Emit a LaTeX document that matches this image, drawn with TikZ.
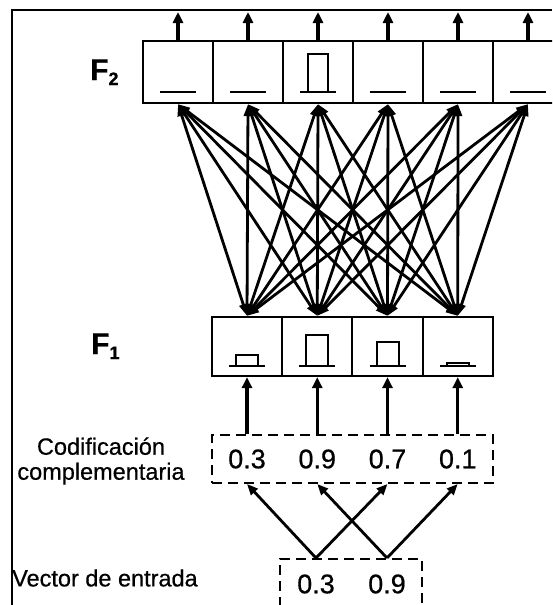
\documentclass[tikz,border=0pt]{standalone}
\usepackage{fontspec}
\setmainfont{Liberation Sans}[FakeBold=0.6]
\newfontfamily\heavyfont{Liberation Sans}[FakeBold=0.6]
\usetikzlibrary{arrows.meta}
\begin{document}
\begin{tikzpicture}[x=1pt,y=-1pt,
  cellF/.style={draw, line width=2.2pt, minimum width=70pt, minimum height=62pt, inner sep=0pt},
  cellM/.style={draw, line width=2.2pt, minimum width=70.25pt, minimum height=59pt, inner sep=0pt},
  sym/.style={line width=2pt},
  link/.style={line width=2.8pt, {Triangle[length=12pt,width=8pt]}-{Triangle[length=12pt,width=8pt]}},
  uparrow/.style={line width=3.2pt, -{Triangle[length=11pt,width=10pt]}},
  diagarrow/.style={line width=2.8pt, -{Triangle[length=11pt,width=9pt]}},
  dbox/.style={draw, line width=2pt, dash pattern=on 10pt off 6pt, inner sep=0pt},
  num/.style={font=\fontsize{27}{27}\selectfont\heavyfont, inner sep=0pt},
  lbl/.style={font=\fontsize{23.5}{25}\selectfont\heavyfont, inner sep=0pt},
  flbl/.style={font=\fontsize{30}{30}\selectfont\bfseries, inner sep=0pt}
]
\useasboundingbox (0,0) rectangle (552,605);
\clip (0,0) rectangle (552,605);
\fill[white] (0,0) rectangle (552,605);
% frame
\draw[line width=1.3pt] (12,605) -- (12,10) -- (552,10);

% F2 layer
\foreach \i/\x in {1/178,2/248,3/318,4/388,5/458,6/528}{
  \node[cellF] (t\i) at (\x,72) {};
  \coordinate (o\i) at (\x,12);
  \draw[sym] ([xshift=-18pt,yshift=-20pt]t\i.center) -- ++(36,0);
  \draw[uparrow] (t\i.north) -- (o\i);
}
\draw[sym] ([xshift=-10pt,yshift=-20pt]t3.center) -- ++(0,-38) -- ++(20,0) -- ++(0,38);
\node[flbl, anchor=base west] (f2) at (90,80) {F\raisebox{-5pt}{\fontsize{18}{18}\selectfont 2}};

% F1 layer
\foreach \i/\h in {1/11,2/31,3/24,4/3}{
  \node[cellM] (m\i) at ({247+70.25*(\i-1)},346.5) {};
  \draw[sym] ([xshift=-18pt,yshift=-19.5pt]m\i.center) -- ++(36,0);
  \draw[sym] ([xshift=-11pt,yshift=-19.5pt]m\i.center) -- ++(0,-\h) -- ++(22,0) -- ++(0,\h);
}
\node[flbl, anchor=base west] (f1) at (91,354) {F\raisebox{-5pt}{\fontsize{18}{18}\selectfont 1}};

% connections
\foreach \a in {1,...,6}{
  \foreach \b in {1,...,4}{
    \draw[link] (t\a.south) -- (m\b.north);
  }
}

% complement coding
\node[dbox, minimum width=281pt, minimum height=48pt] (cod) at (352.5,459) {};
\foreach \i/\v in {1/0.3,2/0.9,3/0.7,4/0.1}{
  \node[num] (c\i) at ({247+70.25*(\i-1)},459) {\v};
  \draw[uparrow] (c\i |- cod.north) -- (m\i.south);
}
\node[lbl, align=center] (codl) at (101,461) {Codificación\\complementaria};

% input vector
\node[dbox, minimum width=142pt, minimum height=62pt, anchor=north] (inp) at (351,558) {};
\node[num] (i1) at (316,584) {0.3};
\node[num] (i2) at (387,584) {0.9};
\node[lbl, anchor=west] (inl) at (12,578) {Vector de entrada};

\draw[diagarrow] (i1 |- inp.north) -- (c1 |- cod.south);
\draw[diagarrow] (i1 |- inp.north) -- (c3 |- cod.south);
\draw[diagarrow] (i2 |- inp.north) -- (c2 |- cod.south);
\draw[diagarrow] (i2 |- inp.north) -- (c4 |- cod.south);
\end{tikzpicture}
\end{document}
